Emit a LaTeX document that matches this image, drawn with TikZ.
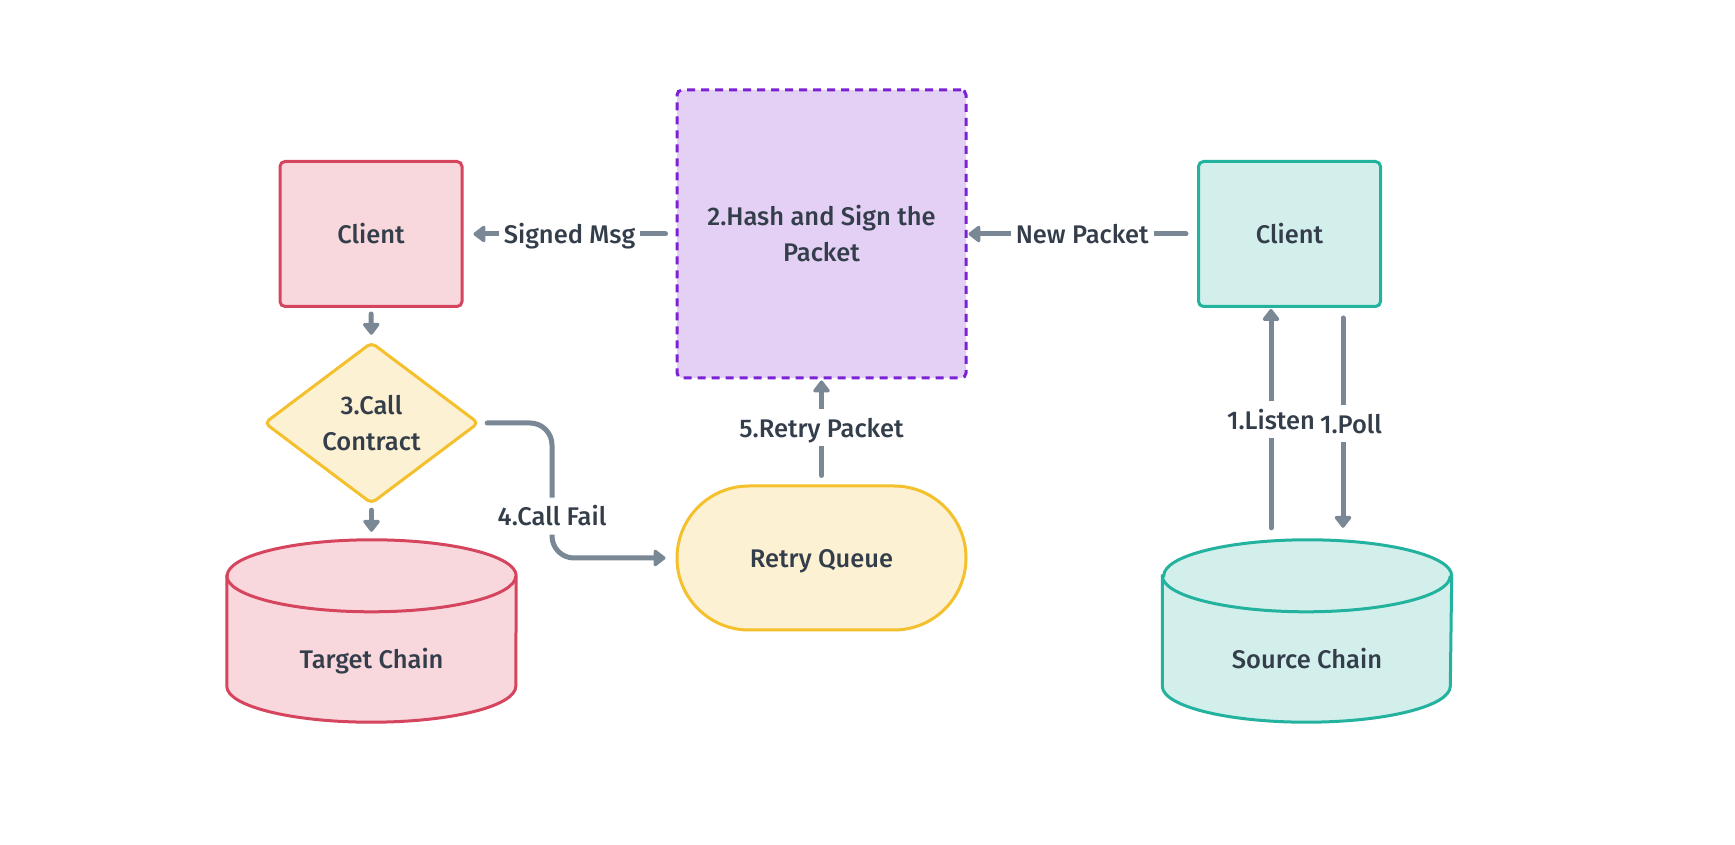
\documentclass[tikz,border=0pt]{standalone}
\usepackage{fontspec}
\IfFontExistsTF{Fira Sans Medium}{\setmainfont{Fira Sans Medium}}{\setmainfont{Fira Sans}}
\usetikzlibrary{arrows.meta}
\definecolor{txt}{HTML}{343E4B}
\definecolor{arr}{HTML}{7A8896}
\definecolor{redB}{HTML}{D6455E}
\definecolor{redF}{HTML}{F8D8DD}
\definecolor{purB}{HTML}{7B22D4}
\definecolor{purF}{HTML}{E3D0F4}
\definecolor{tealB}{HTML}{23B29E}
\definecolor{tealF}{HTML}{D2EFEC}
\definecolor{yelB}{HTML}{F4C02B}
\definecolor{yelF}{HTML}{FDF1D3}
\pgfdeclarelayer{bg}
\pgfsetlayers{bg,main}
\begin{document}
\begin{tikzpicture}[x=1pt,y=1pt,
  every node/.style={font=\fontsize{25.5}{36}\selectfont, text=txt},
  box/.style={rectangle, rounded corners=5pt, line width=3pt, minimum width=182pt, minimum height=145pt, align=center, inner sep=0pt},
  redbox/.style={box, draw=redB, fill=redF},
  tealbox/.style={box, draw=tealB, fill=tealF},
  hashbox/.style={rectangle, rounded corners=5pt, line width=3pt, draw=purB, fill=purF, dash pattern=on 8pt off 6pt, minimum width=289pt, minimum height=288pt, align=center, inner sep=0pt},
  queuebox/.style={rectangle, rounded corners=72pt, line width=3pt, draw=yelB, fill=yelF, minimum width=289pt, minimum height=144pt, inner sep=0pt, text depth=0pt},
  holder/.style={rectangle, inner sep=0pt, align=center},
  cyl/.style={line width=3pt},
  conn/.style={draw=arr, line width=5pt, line cap=round, -{Triangle[length=13pt,width=19pt,round]}},
  lab/.style={fill=white, inner xsep=5pt, inner ysep=9pt, text height=19pt, text depth=0pt},
]
\useasboundingbox (0,0) rectangle (1735,844);
\begin{pgfonlayer}{bg}
\fill[white] (0,0) rectangle (1735,844);
\end{pgfonlayer}

% nodes
\node[redbox] (c1) at (371,610) {Client};
\node[hashbox] (hs) at (821.5,610) {2.Hash and Sign the\\Packet};
\node[tealbox] (c2) at (1289.5,610) {Client};
\node[holder, minimum width=213pt, minimum height=160pt] (dm) at (371.5,421) {3.Call\\Contract};
\node[queuebox] (rq) at (821.5,286) {Retry Queue};
\node[holder, minimum width=289pt, minimum height=182pt] (tc) at (371.5,213) {};
\node[holder, minimum width=289pt, minimum height=182pt] (sc) at (1307,213) {};
\node[text depth=0pt] (tcl) at ([yshift=-27]tc.center) {Target Chain};
\node[text depth=0pt] (scl) at ([yshift=-27]sc.center) {Source Chain};

\begin{pgfonlayer}{bg}
\draw[line width=3pt, draw=yelB, fill=yelF, rounded corners=5pt] (dm.north) -- (dm.east) -- (dm.south) -- (dm.west) -- cycle;
\draw[cyl, draw=redB, fill=redF] ([yshift=-36]tc.north west) -- ([yshift=36]tc.south west)
  arc[start angle=180, end angle=360, x radius=144.5, y radius=36]
  -- ([yshift=-36]tc.north east)
  arc[start angle=0, end angle=180, x radius=144.5, y radius=36] -- cycle;
\draw[cyl, draw=redB] ([yshift=-36]tc.north west) arc[start angle=180, end angle=360, x radius=144.5, y radius=36];
\draw[cyl, draw=tealB, fill=tealF] ([yshift=-36]sc.north west) -- ([yshift=36]sc.south west)
  arc[start angle=180, end angle=360, x radius=144, y radius=36]
  -- ([yshift=-36]sc.north east)
  arc[start angle=0, end angle=180, x radius=144, y radius=36] -- cycle;
\draw[cyl, draw=tealB] ([yshift=-36]sc.north west) arc[start angle=180, end angle=360, x radius=144, y radius=36];
\end{pgfonlayer}

% connectors
\draw[conn, shorten <=10pt, shorten >=10pt] (hs.west) -- node[lab]{Signed Msg} (c1.east);
\draw[conn, shorten <=11pt, shorten >=1pt] (c2.west) -- node[lab]{New Packet} (hs.east);
\draw[conn, shorten <=6pt, shorten >=8pt] (c1.south) -- (dm.north);
\draw[conn, shorten <=7pt, shorten >=8pt] (dm.south) -- (tc.north);
\coordinate (kx) at (552,421);
\draw[conn, rounded corners=22pt, shorten <=9pt, shorten >=10pt] (dm.east) -- (dm.east -| kx) -- node[lab, pos=0.69]{4.Call Fail} (kx |- rq.west) -- (rq.west);
\draw[conn, shorten <=9pt, shorten >=1pt] (rq.north) -- node[lab, yshift=4pt]{5.Retry Packet} (hs.south);
\draw[conn, shorten <=12pt, shorten >=1pt] ([xshift=-36]sc.north) -- node[lab, inner xsep=2pt, yshift=4pt]{1.Listen} ([xshift=-36]sc.north |- c2.south);
\draw[conn, shorten <=10pt, shorten >=12pt] ([xshift=36]sc.north |- c2.south) -- node[lab, inner xsep=2pt, xshift=8pt]{1.Poll} ([xshift=36]sc.north);
\end{tikzpicture}
\end{document}
